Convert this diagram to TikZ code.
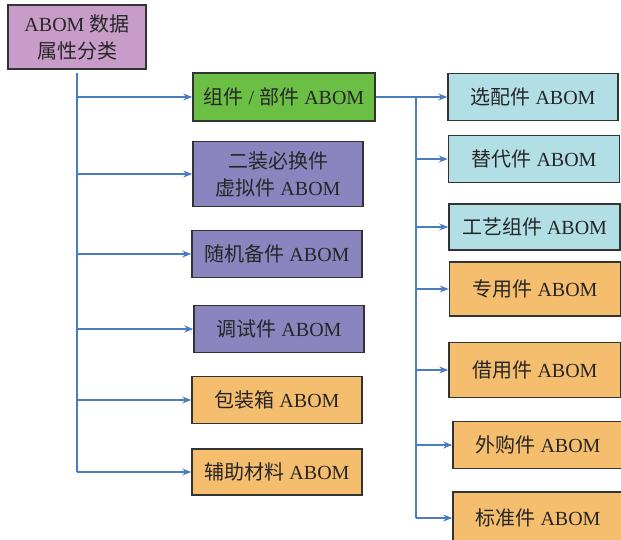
\documentclass[tikz,border=0pt]{standalone}
\usepackage{fontspec}
\setmainfont{Liberation Serif}
\newfontfamily\cjk{Noto Sans CJK SC}
\newcommand{\zh}[1]{{\cjk #1}}
\usetikzlibrary{arrows.meta,positioning}

\definecolor{rootfill}{HTML}{C89CC8}
\definecolor{asmfill}{HTML}{6CBF45}
\definecolor{virtfill}{HTML}{8A85BF}
\definecolor{optfill}{HTML}{B2DFE6}
\definecolor{orgfill}{HTML}{F5BD6E}
\definecolor{boxline}{HTML}{333333}
\definecolor{linkblue}{HTML}{4A7CC0}

\begin{document}
\begin{tikzpicture}[
  x=1pt, y=-1pt,
  font=\fontsize{20}{27}\selectfont,
  box/.style={rectangle, draw=boxline, line width=1.5pt, align=center, text=black!85, inner sep=0pt, minimum width=170pt, minimum height=47pt},
  rootbox/.style={box, fill=rootfill, minimum width=138pt, minimum height=64pt},
  asmbox/.style={box, fill=asmfill, minimum width=182pt, minimum height=48pt},
  virtbox/.style={box, fill=virtfill},
  optbox/.style={box, fill=optfill},
  orgbox/.style={box, fill=orgfill},
  arrow/.style={-{Stealth[length=9pt,width=7pt]}, line width=1.3pt, draw=linkblue},
  trunk/.style={line width=1.3pt, draw=linkblue}
]
\useasboundingbox (0,0) rectangle (621,540);
\clip (0,0) rectangle (621,540);

% Root
\node[rootbox] (root) at (77,37) {ABOM \zh{数据}\\\zh{属性分类}};

% First level
\node[asmbox] (asm) at (284,97) {\zh{组件} / \zh{部件} ABOM};
\node[virtbox, minimum height=65pt] (virt) at (278,174) {\zh{二装必换件}\\\zh{虚拟件} ABOM};
\node[virtbox] (spare) at (277,254) {\zh{随机备件} ABOM};
\node[virtbox] (debug) at (279,329) {\zh{调试件} ABOM};
\node[orgbox] (pack) at (277,400) {\zh{包装箱} ABOM};
\node[orgbox, minimum height=46pt] (aux) at (277,472) {\zh{辅助材料} ABOM};

% Second level
\node[optbox] (opt) at (533,97) {\zh{选配件} ABOM};
\node[optbox, minimum width=171pt] (subst) at (534,159) {\zh{替代件} ABOM};
\node[optbox, minimum width=171pt, minimum height=46pt] (proc) at (534.5,227) {\zh{工艺组件} ABOM};
\node[orgbox, minimum width=171pt, minimum height=54pt] (ded) at (535,289) {\zh{专用件} ABOM};
\node[orgbox, minimum width=172pt, minimum height=55pt] (borrow) at (535,370) {\zh{借用件} ABOM};
\node[orgbox, minimum width=170pt] (buy) at (538,445) {\zh{外购件} ABOM};
\node[orgbox, minimum width=170pt, minimum height=52pt] (std) at (538,518) {\zh{标准件} ABOM};

% Left trunk
\coordinate (ltop) at (77,73);
\coordinate (lbot) at (77,472);
\draw[trunk] (ltop) -- (lbot);
\draw[arrow] (ltop |- asm.west) -- (asm.west);
\draw[arrow] (ltop |- virt.west) -- (virt.west);
\draw[arrow] (ltop |- spare.west) -- (spare.west);
\draw[arrow] (ltop |- debug.west) -- (debug.west);
\draw[arrow] (ltop |- pack.west) -- (pack.west);
\draw[arrow] (ltop |- aux.west) -- (aux.west);

% Right trunk
\coordinate (rtop) at (416,97);
\draw[arrow] (asm.east) -- (opt.west);
\draw[trunk] (rtop) -- (rtop |- std.west);
\draw[arrow] (rtop |- subst.west) -- (subst.west);
\draw[arrow] (rtop |- proc.west) -- (proc.west);
\draw[arrow] (rtop |- ded.west) -- (ded.west);
\draw[arrow] (rtop |- borrow.west) -- (borrow.west);
\draw[arrow] (rtop |- buy.west) -- (buy.west);
\draw[arrow] (rtop |- std.west) -- (std.west);

\end{tikzpicture}
\end{document}
